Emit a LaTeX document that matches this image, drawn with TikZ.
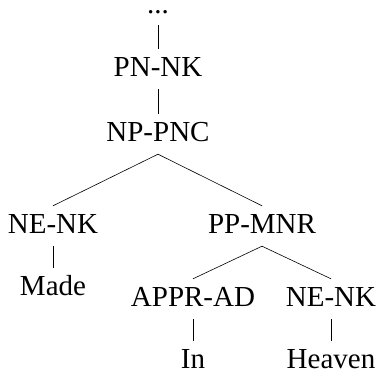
\documentclass[tikz,border=0pt]{standalone}
\usepackage{fontspec}
\setmainfont{Liberation Serif}
\begin{document}
\begin{tikzpicture}[x=1pt,y=-1pt,
    lab/.style={anchor=base,inner sep=7pt,text height=20pt,text depth=6pt,
      font=\fontsize{29}{34}\selectfont},
    edge/.style={line width=0.6pt}]
    \useasboundingbox (0,0) rectangle (378,375);
    \node[lab,text height=4pt,inner sep=6pt] (top) at (158,13) {...};
    \node[lab] (pn) at (158,76) {PN-NK};
    \node[lab] (np) at (158,141) {NP-PNC};
    \node[lab] (ne) at (53,233) {NE-NK};
    \node[lab] (pp) at (262,233) {PP-MNR};
    \node[lab] (made) at (53,295) {Made};
    \node[lab] (appr) at (193,306) {APPR-AD};
    \node[lab] (nek) at (331,306) {NE-NK};
    \node[lab] (in) at (193,368) {In};
    \node[lab] (heaven) at (331,368) {Heaven};
    \draw[edge] (top.south) -- (pn.north);
    \draw[edge] (pn.south) -- (np.north);
    \draw[edge] (np.south) -- (ne.north);
    \draw[edge] (np.south) -- (pp.north);
    \draw[edge] (ne.south) -- (made.north);
    \draw[edge] (pp.south) -- (appr.north);
    \draw[edge] (pp.south) -- (nek.north);
    \draw[edge] (appr.south) -- (in.north);
    \draw[edge] (nek.south) -- (heaven.north);
\end{tikzpicture}
\end{document}
